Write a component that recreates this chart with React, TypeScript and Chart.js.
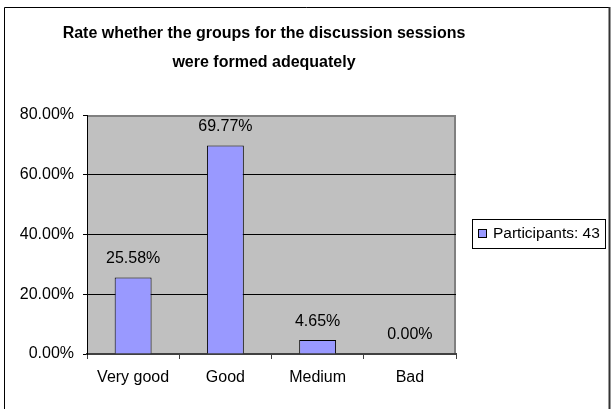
import { ReactElement, useEffect, useRef } from 'react';
import { Chart, registerables, Plugin } from 'chart.js';

Chart.register(...registerables);

const categories: string[] = ['Very good', 'Good', 'Medium', 'Bad'];
const shares: number[] = [25.58, 69.77, 4.65, 0];
const seriesLabel = 'Participants: 43';
const titleLines: string[] = ['Rate whether the groups for the discussion sessions', 'were formed adequately'];

const FONT = "'Liberation Sans', Arial, sans-serif";
const BAR_COLOR = '#9999FF';

// grey plot background plus frame around the whole picture
const backdrop: Plugin<'bar'> = {
  id: 'backdrop',
  beforeDraw: (chart) => {
    const { ctx, chartArea } = chart;
    ctx.save();
    ctx.fillStyle = '#ffffff';
    ctx.fillRect(0, 0, chart.width, chart.height);

    ctx.fillStyle = '#C0C0C0';
    ctx.fillRect(chartArea.left, chartArea.top, chartArea.right - chartArea.left, chartArea.bottom - chartArea.top);
    ctx.strokeStyle = '#808080';
    ctx.lineWidth = 2;
    ctx.beginPath();
    ctx.moveTo(chartArea.left, chartArea.top + 1);
    ctx.lineTo(chartArea.right - 1, chartArea.top + 1);
    ctx.lineTo(chartArea.right - 1, chartArea.bottom);
    ctx.stroke();

    // outer frame
    ctx.strokeStyle = '#000000';
    ctx.lineWidth = 1;
    ctx.beginPath();
    ctx.moveTo(4.5, chart.height + 2);
    ctx.lineTo(4.5, 7.5);
    ctx.lineTo(609, 7.5);
    ctx.stroke();
    ctx.strokeStyle = '#333333';
    ctx.lineWidth = 2;
    ctx.beginPath();
    ctx.moveTo(609.5, 7);
    ctx.lineTo(609.5, chart.height + 2);
    ctx.stroke();
    ctx.restore();
  }
};

const titleAndLegend: Plugin<'bar'> = {
  id: 'titleAndLegend',
  afterDraw: (chart) => {
    const { ctx } = chart;
    ctx.save();
    ctx.fillStyle = '#000000';
    ctx.font = `bold 16px ${FONT}`;
    ctx.textAlign = 'center';
    ctx.textBaseline = 'middle';
    titleLines.forEach((line, i) => ctx.fillText(line, 264, 34 + i * 29));

    // legend box
    ctx.fillStyle = '#ffffff';
    ctx.fillRect(472, 219, 133, 29);
    ctx.strokeStyle = '#000000';
    ctx.lineWidth = 1;
    ctx.strokeRect(472.5, 219.5, 133, 29);
    ctx.fillStyle = BAR_COLOR;
    ctx.fillRect(478.5, 229.5, 8, 8);
    ctx.strokeRect(478.5, 229.5, 8, 8);
    ctx.fillStyle = '#000000';
    ctx.font = `15.5px ${FONT}`;
    ctx.textAlign = 'left';
    ctx.fillText(String(chart.data.datasets[0].label), 493, 234);
    ctx.restore();
  }
};

const valueLabels: Plugin<'bar'> = {
  id: 'valueLabels',
  afterDatasetsDraw: (chart) => {
    const { ctx } = chart;
    const meta = chart.getDatasetMeta(0);
    ctx.save();
    ctx.fillStyle = '#000000';
    ctx.font = `16px ${FONT}`;
    ctx.textAlign = 'center';
    ctx.textBaseline = 'middle';
    meta.data.forEach((bar, i) => {
      const v = chart.data.datasets[0].data[i] as number;
      ctx.fillText(`${v.toFixed(2)}%`, bar.x, bar.y - 19);
    });
    ctx.restore();
  }
};

const App = (): ReactElement => {
  const canvasRef = useRef<HTMLCanvasElement | null>(null);
  const chartInstance = useRef<Chart | null>(null);

  useEffect(() => {
    if (!canvasRef.current) return;
    if (chartInstance.current) chartInstance.current.destroy();

    chartInstance.current = new Chart(canvasRef.current, {
      type: 'bar',
      data: {
        labels: categories,
        datasets: [
          {
            label: seriesLabel,
            data: shares,
            backgroundColor: BAR_COLOR,
            borderColor: '#000000',
            borderWidth: 1,
            categoryPercentage: 1,
            barPercentage: 0.4
          }
        ]
      },
      options: {
        responsive: false,
        animation: false,
        devicePixelRatio: 1,
        layout: { padding: { left: 0, top: 115, right: 157, bottom: 0 } },
        plugins: {
          legend: { display: false },
          title: { display: false },
          tooltip: { enabled: false }
        },
        scales: {
          x: {
            afterFit: (scale) => {
              scale.height = 55;
            },
            border: { color: '#404040', width: 2 },
            grid: {
              drawOnChartArea: false,
              drawTicks: true,
              tickLength: 5,
              tickColor: '#404040',
              tickWidth: 1
            },
            ticks: {
              color: '#000000',
              font: { family: FONT, size: 16 },
              padding: 9
            }
          },
          y: {
            min: 0,
            max: 80,
            afterFit: (scale) => {
              scale.width = 87;
            },
            border: { color: '#000000', width: 1 },
            grid: {
              color: (ctx) => (ctx.tick && ctx.tick.value > 0 && ctx.tick.value < 80 ? '#000000' : 'rgba(0,0,0,0)'),
              tickColor: '#000000',
              tickLength: 4,
              lineWidth: 1
            },
            ticks: {
              stepSize: 20,
              color: '#000000',
              font: { family: FONT, size: 16 },
              padding: 9,
              callback: (v) => `${Number(v).toFixed(2)}%`
            }
          }
        }
      },
      plugins: [backdrop, valueLabels, titleAndLegend]
    });

    return () => {
      if (chartInstance.current) {
        chartInstance.current.destroy();
        chartInstance.current = null;
      }
    };
  }, []);

  return (
    <div style={{ position: 'absolute', left: 0, top: 0, width: 613, height: 409, background: '#fff' }}>
      <canvas ref={canvasRef} width={613} height={409} style={{ width: 613, height: 409, display: 'block' }} />
    </div>
  );
};

export default App;
